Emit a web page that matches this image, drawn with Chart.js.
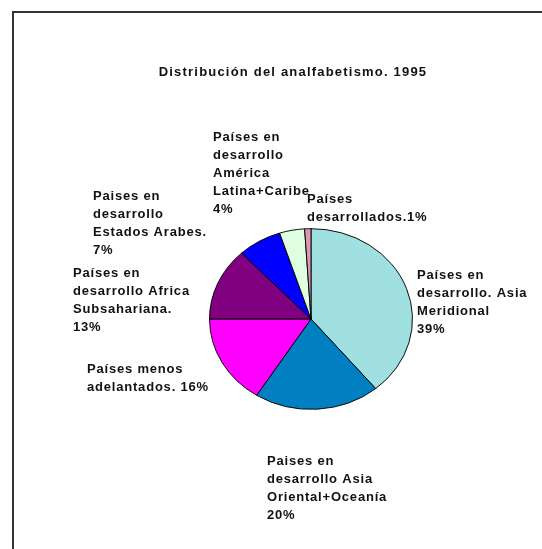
<!DOCTYPE html>
<html>
<head>
<meta charset="utf-8">
<script src="https://cdn.jsdelivr.net/npm/chart.js@4"></script>
<style>
  body { margin: 0; background: #fff; }
</style>
</head>
<body>
<canvas id="pie" width="542" height="549"></canvas>
<script>
let title = 'Distribución del analfabetismo. 1995';

let categories = [
  'Países en desarrollo. Asia Meridional',
  'Paises en desarrollo Asia Oriental+Oceanía',
  'Países menos adelantados',
  'Países en desarrollo Africa Subsahariana',
  'Paises en desarrollo Estados Arabes',
  'Países en desarrollo América Latina+Caribe',
  'Países desarrollados'
];
let values = [39, 20, 16, 13, 7, 4, 1];

// how each label is broken into lines, {p} is the percentage
let labelLines = [
  ['Países en', 'desarrollo. Asia', 'Meridional', '{p}'],
  ['Paises en', 'desarrollo Asia', 'Oriental+Oceanía', '{p}'],
  ['Países menos', 'adelantados. {p}'],
  ['Países en', 'desarrollo Africa', 'Subsahariana.', '{p}'],
  ['Paises en', 'desarrollo', 'Estados Arabes.', '{p}'],
  ['Países en', 'desarrollo', 'América', 'Latina+Caribe', '{p}'],
  ['Países', 'desarrollados.{p}']
];

let colors = ['#A0E0E0', '#0080C0', '#FF00FF', '#800080', '#0000FF', '#E0FFE0', '#D89AB4'];

// label spot relative to pie centre (left edge, first line middle)
let labelOffsets = [[106, -44], [-44, 142], [-224, 50], [-238, -46], [-218, -123], [-98, -182], [-4, -120]];

let squash = 0.89;

let ellipse = {
  id: 'ellipse',
  beforeDatasetsDraw(chart) {
    let arc = chart.getDatasetMeta(0).data[0];
    let ctx = chart.ctx;
    ctx.save();
    ctx.translate(arc.x, arc.y);
    ctx.scale(1, squash);
    ctx.translate(-arc.x, -arc.y);
  },
  afterDatasetsDraw(chart) {
    chart.ctx.restore();
  }
};

let decor = {
  id: 'decor',
  beforeDraw(chart) {
    let ctx = chart.ctx;
    ctx.save();
    ctx.strokeStyle = '#333';
    ctx.lineWidth = 2;
    ctx.strokeRect(13, 12, 600, 600);
    ctx.restore();
  },
  afterDraw(chart) {
    let ctx = chart.ctx;
    let arc = chart.getDatasetMeta(0).data[0];
    ctx.save();
    ctx.fillStyle = '#111';
    ctx.textBaseline = 'middle';
    ctx.textAlign = 'center';
    ctx.font = 'bold 13px "Liberation Sans", Arial, sans-serif';
    ctx.letterSpacing = '1.2px';
    ctx.fillText(title, 293, 72);
    ctx.textAlign = 'left';
    ctx.letterSpacing = '0.8px';
    let total = values.reduce((a, b) => a + b, 0);
    labelLines.forEach((lines, i) => {
      let p = Math.round(values[i] / total * 100) + '%';
      let x = arc.x + labelOffsets[i][0];
      let y = arc.y + labelOffsets[i][1];
      lines.forEach((l, j) => {
        ctx.fillText(l.replace('{p}', p), x, y + j * 18);
      });
    });
    ctx.restore();
  }
};

new Chart(document.getElementById('pie'), {
  type: 'pie',
  data: {
    labels: categories,
    datasets: [{
      data: values,
      backgroundColor: colors,
      borderColor: '#000',
      borderWidth: 1
    }]
  },
  options: {
    responsive: false,
    animation: false,
    layout: { padding: { left: 209, right: 129, top: 217, bottom: 128 } },
    plugins: {
      legend: { display: false },
      tooltip: { enabled: false }
    }
  },
  plugins: [ellipse, decor]
});
</script>
</body>
</html>
